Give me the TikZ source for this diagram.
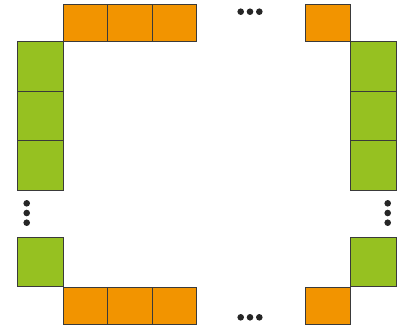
\documentclass[tikz,border=0pt]{standalone}
\definecolor{BOXORANGE}{HTML}{F29400}
\definecolor{BOXGREEN}{HTML}{96C121}
\definecolor{EDGEGRAY}{HTML}{3A3A3A}
\usepackage{tikz}

\begin{document}
\begin{tikzpicture}[
  %% Horizontal-row cells — orange fill
  obox/.style={
    draw=EDGEGRAY, fill=BOXORANGE, rectangle, line width=0.55pt,
    minimum width=0.89cm, minimum height=0.74cm, inner sep=0pt
  },
  %% Vertical-column cells — green fill
  gbox/.style={
    draw=EDGEGRAY, fill=BOXGREEN, rectangle, line width=0.55pt,
    minimum width=0.92cm, minimum height=0.99cm, inner sep=0pt
  },
  dot/.style={fill=black!85}
]
\useasboundingbox (0,0) rectangle (7.98,-6.58);

%% ── Top row ──────────────────────────────────────────────────
\node[obox] (t1) at (1.712, -0.464) {};
\node[obox] (t2) at (2.602, -0.464) {};
\node[obox] (t3) at (3.492, -0.464) {};
\node[obox] (t4) at (6.564, -0.464) {};

%% ── Left column ──────────────────────────────────────────────
\node[gbox] (l1) at (0.806, -1.325) {};
\node[gbox] (l2) at (0.806, -2.315) {};
\node[gbox] (l3) at (0.806, -3.305) {};
\node[gbox] (l4) at (0.806, -5.240) {};

%% ── Right column ─────────────────────────────────────────────
\node[gbox] (r1) at (7.470, -1.325) {};
\node[gbox] (r2) at (7.470, -2.315) {};
\node[gbox] (r3) at (7.470, -3.305) {};
\node[gbox] (r4) at (7.470, -5.240) {};

%% ── Bottom row ───────────────────────────────────────────────
\node[obox] (b1) at (1.712, -6.110) {};
\node[obox] (b2) at (2.602, -6.110) {};
\node[obox] (b3) at (3.492, -6.110) {};
\node[obox] (b4) at (6.564, -6.110) {};

%% ── Ellipsis dots ────────────────────────────────────────────
\foreach \x in {4.814, 5.000, 5.186} {
  \fill[dot] (\x, -0.234) circle (0.066);
  \fill[dot] (\x, -6.346) circle (0.066);
}
\foreach \y in {-4.066, -4.260, -4.454} {
  \fill[dot] (0.534, \y) circle (0.066);
  \fill[dot] (7.754, \y) circle (0.066);
}

\end{tikzpicture}
\end{document}
